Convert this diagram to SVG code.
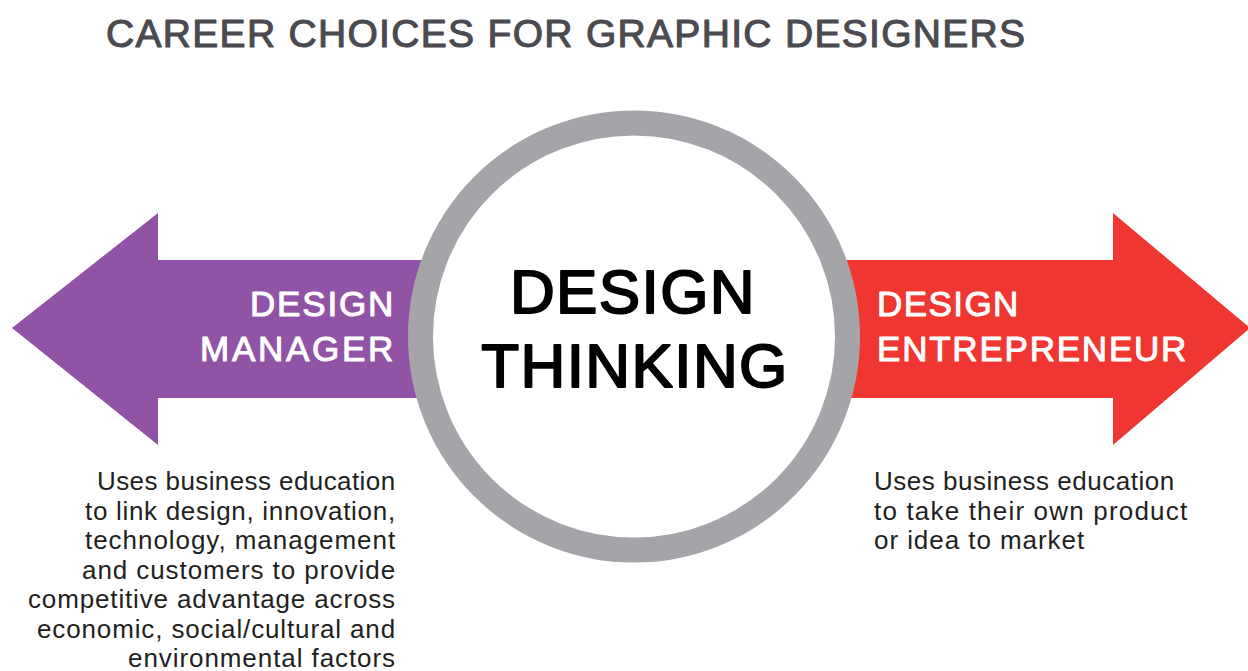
<svg xmlns="http://www.w3.org/2000/svg" width="1248" height="671" viewBox="0 0 1248 671">
  <style>
    .title { font-family: "Liberation Sans", Arial, sans-serif; font-size: 39px; fill: #4a4a50; stroke: #4a4a50; stroke-width: 1.1px; stroke-linejoin: round; letter-spacing: 0.9px; }
    .lbl { font-family: "Liberation Sans", Arial, sans-serif; font-size: 35px; fill: #ffffff; stroke: #ffffff; stroke-width: 1px; stroke-linejoin: round; letter-spacing: 1.6px; }
    .core { font-family: "Liberation Sans", Arial, sans-serif; font-size: 62px; fill: #000000; stroke: #000000; stroke-width: 2px; stroke-linejoin: round; letter-spacing: 1.4px; }
    .body { font-family: "Liberation Sans", Arial, sans-serif; font-size: 26px; fill: #231f20; letter-spacing: 0.9px; }
  </style>
  <rect width="1248" height="671" fill="#ffffff"/>
  <text class="title" x="106" y="47" textLength="920" lengthAdjust="spacing">CAREER CHOICES FOR GRAPHIC DESIGNERS</text>

  <g id="design-manager">
    <polygon points="12,328 158,213 158,260 640,260 640,398 158,398 158,445" fill="#9053a6"/>
    <text class="lbl" x="395" y="316" text-anchor="end" textLength="145" lengthAdjust="spacing">DESIGN</text>
    <text class="lbl" x="395" y="361" text-anchor="end" textLength="195" lengthAdjust="spacing">MANAGER</text>
    <g class="body" text-anchor="end">
      <text x="396" y="490" textLength="299" lengthAdjust="spacing">Uses business education</text>
      <text x="396" y="519.5" textLength="311" lengthAdjust="spacing">to link design, innovation,</text>
      <text x="396" y="549" textLength="311" lengthAdjust="spacing">technology, management</text>
      <text x="396" y="578.5" textLength="314" lengthAdjust="spacing">and customers to provide</text>
      <text x="396" y="608" textLength="368" lengthAdjust="spacing">competitive advantage across</text>
      <text x="396" y="637.5" textLength="359" lengthAdjust="spacing">economic, social/cultural and</text>
      <text x="396" y="667" textLength="268" lengthAdjust="spacing">environmental factors</text>
    </g>
  </g>

  <g id="design-entrepreneur">
    <polygon points="630,260 1113,260 1113,213 1250,328 1113,445 1113,398 630,398" fill="#f03631"/>
    <text class="lbl" x="877" y="316" textLength="143" lengthAdjust="spacing">DESIGN</text>
    <text class="lbl" x="877" y="361" textLength="311" lengthAdjust="spacing">ENTREPRENEUR</text>
    <g class="body">
      <text x="874" y="490" textLength="301" lengthAdjust="spacing">Uses business education</text>
      <text x="874" y="519.5" textLength="314" lengthAdjust="spacing">to take their own product</text>
      <text x="874" y="549" textLength="211" lengthAdjust="spacing">or idea to market</text>
    </g>
  </g>

  <g id="design-thinking">
    <circle cx="634" cy="336.5" r="213.5" fill="#ffffff" stroke="#a5a4a9" stroke-width="25"/>
    <text class="core" x="633" y="313" text-anchor="middle">DESIGN</text>
    <text class="core" x="635" y="387" text-anchor="middle">THINKING</text>
  </g>
</svg>
